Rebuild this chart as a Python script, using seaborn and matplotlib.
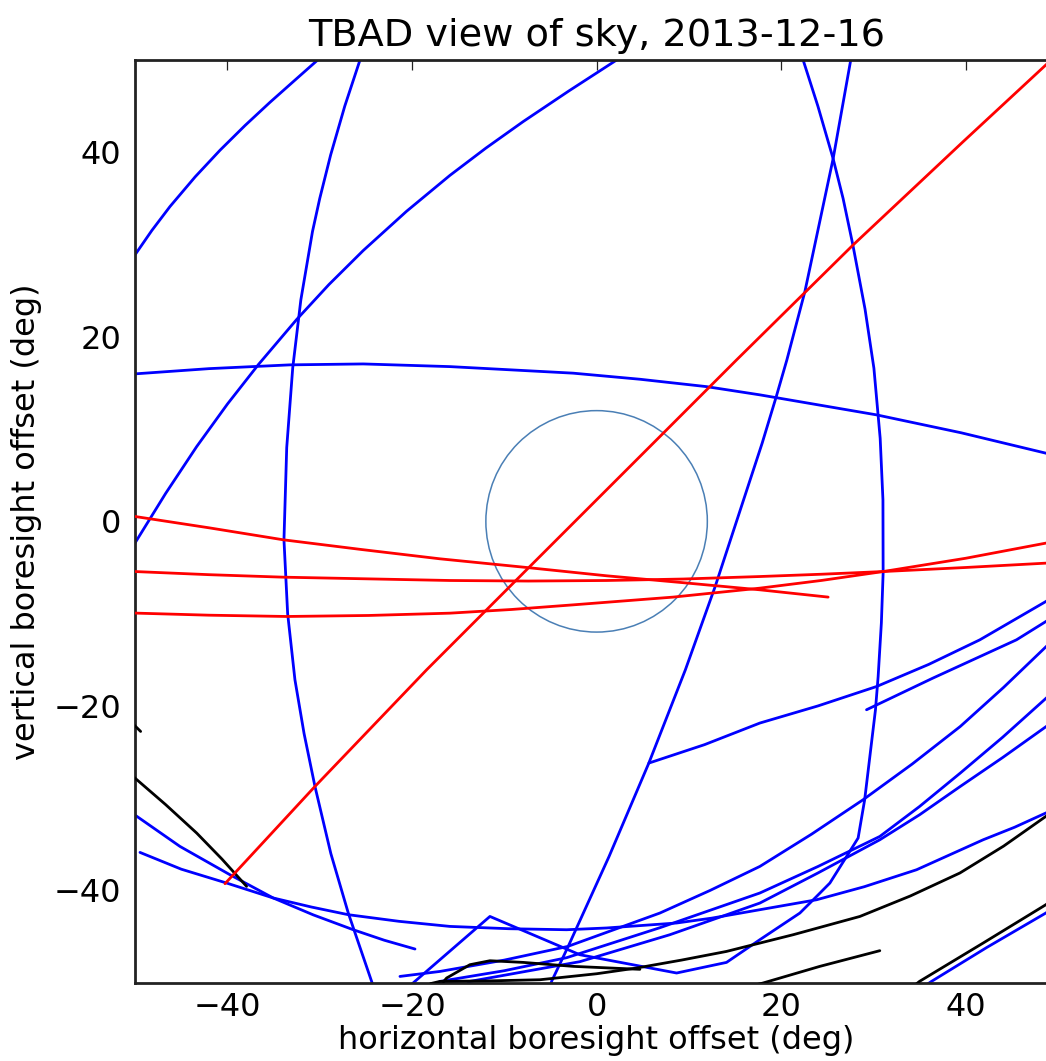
import matplotlib
matplotlib.use("Agg")
import matplotlib.pyplot as plt
import seaborn as sns
from matplotlib.patches import Circle

# ---------------- data (degrees) ----------------
ticks = [-40, -20, 0, 20, 40]
title = "TBAD view of sky, 2013-12-16"
xlabel = "horizontal boresight offset (deg)"
ylabel = "vertical boresight offset (deg)"
fov_radius = 12

# blue curves
b1_x = [-50.5, -50.03, -48.2, -46.23, -43.5, -40.81, -38.1, -35.40, -32.8, -30.34, -29.7]
b1_y = [28.15, 28.87, 31.52, 34.12, 37.34, 40.22, 42.9, 45.41, 47.72, 49.9, 50.6]
b2_x = [-25.4, -25.64, -27.29, -28.82, -30.0, -30.79, -32.05, -32.93, -33.58, -33.88, -33.48,
        -32.69, -31.7, -30.52, -28.8, -26.91, -25.7, -24.38, -24.0]
b2_y = [51.0, 50.0, 45.0, 39.71, 35.0, 31.40, 24.0, 16.63, 8.0, -2.00, -10.0,
        -17.17, -23.0, -28.73, -36.0, -42.45, -46.0, -49.86, -51.0]
b3_x = [-50.6, -50.03, -46.7, -43.34, -40.0, -36.66, -32.50, -29.0, -25.29, -20.6, -15.89,
        -12.0, -7.95, -3.0, 2.17, 3.2]
b3_y = [-3.3, -2.36, 3.03, 8.1, 12.72, 16.98, 21.88, 25.67, 29.35, 33.6, 37.5,
        40.45, 43.33, 46.65, 50.0, 50.6]
b4_x = [-50.5, -42.0, -33.23, -25.29, -15.89, -2.54, 4.7, 11.92, 17.69, 30.34, 39.5, 48.68, 50.5]
b4_y = [15.95, 16.55, 16.96, 17.06, 16.77, 16.06, 15.4, 14.60, 13.71, 11.54, 9.6, 7.39, 6.9]
b5_x = [22.08, 22.38, 23.98, 25.62, 26.71, 27.77, 29.09, 30.05, 30.73, 31.03, 31.05, 30.86, 30.51,
        30.22, 29.05, 28.34, 27.09, 25.28, 23.84, 22.03, 17.69, 14.08, 8.67, -1.81, -11.56,
        -19.69, -20.3]
b5_y = [51.0, 50.0, 45.0, 39.35, 35.0, 29.96, 23.0, 16.60, 9.0, 2.33, -5.61, -11.0, -16.81,
        -20.42, -30.17, -34.32, -36.32, -39.20, -40.65, -42.45, -45.34, -47.80, -48.95, -46.97,
        -42.82, -49.86, -50.4]
b6_x = [-5.1, -4.88, -3.08, 1.35, 5.66, 9.62, 12.85, 17.94, 19.47, 20.62, 22.57, 25.64, 27.54, 27.72]
b6_y = [-51.0, -49.86, -46.07, -36.32, -26.20, -16.09, -7.06, 8.47, 13.52, 17.50, 24.90, 39.35, 50.0, 51.0]
b7_x = [5.66, 11.7, 17.69, 24.0, 30.34, 36.0, 41.53, 48.68, 50.5]
b7_y = [-26.20, -24.2, -21.86, -20.0, -17.90, -15.5, -12.84, -8.69, -7.5]
b8_x = [29.25, 36.44, 45.50, 48.68, 50.5]
b8_y = [-20.42, -16.99, -12.84, -10.86, -9.7]
b9_x = [-49.48, -45.0, -40.09, -35.04, -30.9, -26.91, -21.4, -15.89, -9.5, -3.25, 1.08, 8.67,
        12.5, 17.69, 23.84, 29.0, 34.67, 41.89, 45.3, 48.68, 50.5]
b9_y = [-35.88, -37.7, -39.20, -40.82, -41.8, -42.63, -43.35, -43.90, -44.15, -44.26, -44.07,
        -43.53, -43.0, -42.09, -41.01, -39.6, -37.76, -34.51, -33.15, -31.61, -30.8]
b10_x = [-50.5, -45.15, -39.73, -35.04, -30.7, -26.37, -23.0, -19.68]
b10_y = [-31.5, -35.23, -38.30, -40.82, -42.65, -44.26, -45.4, -46.35]
b11_x = [35.5, 36.29, 42.25, 48.68, 50.5]
b11_y = [-50.4, -49.86, -46.2, -42.45, -41.2]
la_x = [-21.31, -16.98, -10.0, -3.13, 6.86, 12.3, 17.69, 23.3, 28.88, 34.2, 39.41, 44.1, 48.73, 50.5]
la_y = [-49.32, -48.78, -47.55, -46.07, -42.45, -40.0, -37.40, -33.9, -30.17, -26.3, -22.23,
        -18.0, -13.56, -11.9]
lb_x = [-17.6, -16.98, -10.0, -3.25, 6.86, 17.69, 24.0, 30.69, 35.0, 39.41, 44.0, 48.73, 50.5]
lb_y = [-50.5, -49.86, -48.7, -47.29, -44.04, -40.28, -37.4, -34.15, -30.9, -27.28, -23.4,
        -19.15, -17.6]
lc_x = [-14.3, -13.73, -1.81, 7.94, 17.69, 24.0, 30.69, 35.0, 39.41, 44.0, 48.73, 50.5]
lc_y = [-50.5, -49.86, -47.72, -44.80, -41.37, -38.1, -34.51, -31.8, -28.73, -25.6, -22.23, -20.9]

# black curves
k1_x = [-51.0, -49.41]
k1_y = [-21.2, -22.77]
k2_x = [-50.6, -50.03, -46.7, -43.34, -40.6, -37.93]
k2_y = [-27.3, -27.82, -30.7, -33.78, -36.6, -39.56]
k3a_x = [-16.6, -16.25, -13.73, -11.56, -7.95, -2.54, 4.69]
k3a_y = [-49.9, -49.49, -48.05, -47.62, -47.80, -48.23, -48.55]
k3b_x = [-18.0, -16.98, -11.5, -6.14, 0.0, 4.33, 9.2, 14.08, 21.3, 28.53, 34.0, 39.37, 44.1, 48.68, 50.5]
k3b_y = [-50.1, -49.86, -49.8, -49.68, -49.03, -48.41, -47.55, -46.61, -44.8, -42.82, -40.6,
         -38.11, -35.2, -31.98, -30.6]
k4_x = [17.0, 18.05, 24.19, 30.69]
k4_y = [-50.3, -50.03, -48.23, -46.53]
k5_x = [34.2, 34.99, 41.89, 48.68, 50.5]
k5_y = [-50.5, -49.86, -45.70, -41.55, -40.2]

# red curves
r1_x = [-40.27, -30.52, -18.42, -7.41, 7.04, 15.17, 27.80, 39.72, 48.68, 50.6]
r1_y = [-39.27, -28.73, -16.09, -5.07, 9.37, 17.50, 29.96, 41.15, 49.46, 51.2]
r2_x = [-50.5, -42.0, -33.95, -25.5, -16.98, -7.58, 1.08, 9.4, 17.69, 25.09]
r2_y = [0.6, -0.7, -2.00, -3.05, -4.06, -5.0, -5.90, -6.65, -7.42, -8.21]
r3_x = [-50.5, -42.0, -33.95, -15.89, -7.4, 1.08, 9.4, 17.69, 24.4, 31.05, 40.0, 48.68, 50.5]
r3_y = [-5.42, -5.78, -6.05, -6.41, -6.47, -6.41, -6.25, -5.98, -5.73, -5.44, -5.0, -4.53, -4.4]
r4_x = [-50.5, -42.0, -33.59, -24.7, -15.89, -9.2, -2.54, 8.30, 17.69, 24.4, 31.05, 40.0, 48.68, 50.5]
r4_y = [-9.93, -10.17, -10.31, -10.2, -9.95, -9.55, -9.05, -8.21, -7.24, -6.4, -5.44, -4.0, -2.36, -2.0]

blue_curves = [(b1_x, b1_y), (b2_x, b2_y), (b3_x, b3_y), (b4_x, b4_y), (b5_x, b5_y),
               (b6_x, b6_y), (b7_x, b7_y), (b8_x, b8_y), (b9_x, b9_y), (b10_x, b10_y),
               (b11_x, b11_y), (la_x, la_y), (lb_x, lb_y), (lc_x, lc_y)]
black_curves = [(k1_x, k1_y), (k2_x, k2_y), (k3a_x, k3a_y), (k3b_x, k3b_y), (k4_x, k4_y), (k5_x, k5_y)]
red_curves = [(r1_x, r1_y), (r2_x, r2_y), (r3_x, r3_y), (r4_x, r4_y)]

# ---------------- style ----------------
sns.set_style("white")
plt.rcParams["font.family"] = ["DejaVu Sans"]
plt.rcParams["axes.unicode_minus"] = True
plt.rcParams["text.color"] = "black"
plt.rcParams["axes.labelcolor"] = "black"
plt.rcParams["xtick.color"] = "black"
plt.rcParams["ytick.color"] = "black"

W, H = 1046, 1061
fig = plt.figure(figsize=(W / 100, H / 100), dpi=100)
# axes extends past the right edge of the figure, as in the reference
ax = fig.add_axes([135.2 / W, (H - 982.7) / H, 922.8 / W, 922.7 / H])

ax.add_patch(Circle((0, 0), fov_radius, fill=False, edgecolor="#4a7fb5", lw=1.1, zorder=1))

for xs, ys in blue_curves:
    sns.lineplot(x=xs, y=ys, sort=False, estimator=None, color="#0000ff", lw=2.0, ax=ax, zorder=2)
for xs, ys in black_curves:
    sns.lineplot(x=xs, y=ys, sort=False, estimator=None, color="#000000", lw=2.0, ax=ax, zorder=3)
for xs, ys in red_curves:
    sns.lineplot(x=xs, y=ys, sort=False, estimator=None, color="#ff0000", lw=2.0, ax=ax, zorder=4)

ax.set_xlim(-50, 50)
ax.set_ylim(-50, 50)
ax.set_xticks(ticks)
ax.set_yticks(ticks)
ax.tick_params(direction="in", length=7, width=0.9, top=True, right=True,
               labelsize=23, color="#222222", labelcolor="black")
ax.tick_params(axis="x", pad=7)
ax.tick_params(axis="y", pad=10)
for s in ax.spines.values():
    s.set_linewidth(2.0)
    s.set_color("#222222")

ax.set_title(title, fontsize=27.5, pad=10, color="black")
ax.set_xlabel(xlabel, fontsize=23, labelpad=1)
ax.set_ylabel(ylabel, fontsize=23, labelpad=8)

fig.savefig("out.png", dpi=100)
